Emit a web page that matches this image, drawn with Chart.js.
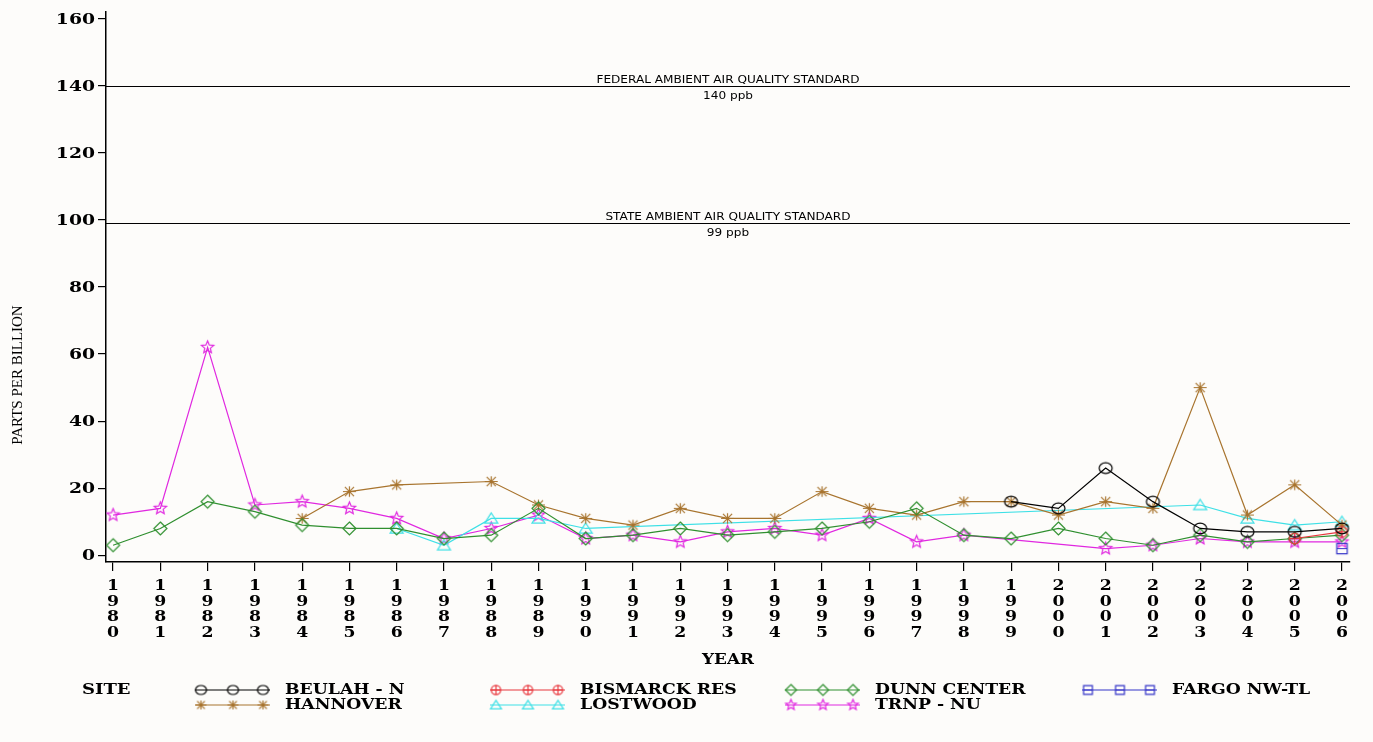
<!DOCTYPE html>
<html>
<head>
<meta charset="utf-8">
<title>Sulfur dioxide annual maximum, 1980-2006</title>
<script src="https://cdn.jsdelivr.net/npm/chart.js@4.4.1/dist/chart.umd.min.js"></script>
<style>
  html, body { margin: 0; padding: 0; background: #fdfcfa; }
  canvas { display: block; }
</style>
</head>
<body>
<canvas id="siteChart" width="1373" height="742"></canvas>
<script>
// yearly values per monitoring site, null = no reading that year
const years = [1980, 1981, 1982, 1983, 1984, 1985, 1986, 1987, 1988, 1989, 1990, 1991, 1992, 1993,
               1994, 1995, 1996, 1997, 1998, 1999, 2000, 2001, 2002, 2003, 2004, 2005, 2006];

const beulahN = [null, null, null, null, null, null, null, null, null, null, null, null, null, null,
                 null, null, null, null, null, 16, 14, 26, 16, 8, 7, 7, 8];
const bismarckRes = [null, null, null, null, null, null, null, null, null, null, null, null, null, null,
                     null, null, null, null, null, null, null, null, null, null, null, 5, 7];
const dunnCenter = [3, 8, 16, 13, 9, 8, 8, 5, 6, 14, 5, 6, 8, 6,
                    7, 8, 10, 14, 6, 5, 8, 5, 3, 6, 4, 5, 6];
const fargoNwTl = [null, null, null, null, null, null, null, null, null, null, null, null, null, null,
                   null, null, null, null, null, null, null, null, null, null, null, null, 2];
const hannover = [null, null, null, null, 11, 19, 21, null, 22, 15, 11, 9, 14, 11,
                  11, 19, 14, 12, 16, 16, 12, 16, 14, 50, 12, 21, 9];
const lostwood = [null, null, null, null, null, null, 8, 3, 11, 11, 8, null, null, null,
                  null, null, null, null, null, null, null, null, null, 15, 11, 9, 10];
const trnpNu = [12, 14, 62, 15, 16, 14, 11, 5, 8, 12, 5, 6, 4, 7,
                8, 6, 11, 4, 6, null, null, 2, 3, 5, 4, 4, 4];

const yTicks = [0, 20, 40, 60, 80, 100, 120, 140, 160];

const standardValues = [140, 99];
const standardNames = ['FEDERAL AMBIENT AIR QUALITY STANDARD', 'STATE AMBIENT AIR QUALITY STANDARD'];
const standardUnits = ['140 ppb', '99 ppb'];

const sites = [
  { name: 'BEULAH - N',   values: beulahN,     color: '#000000', shape: 'circle' },
  { name: 'BISMARCK RES', values: bismarckRes, color: '#e8363c', shape: 'circlePlus' },
  { name: 'DUNN CENTER',  values: dunnCenter,  color: '#2f8f2f', shape: 'diamond' },
  { name: 'FARGO NW-TL',  values: fargoNwTl,   color: '#3535c8', shape: 'boxLine' },
  { name: 'HANNOVER',     values: hannover,    color: '#a8742e', shape: 'asterisk' },
  { name: 'LOSTWOOD',     values: lostwood,    color: '#3ee0e6', shape: 'triangle' },
  { name: 'TRNP - NU',    values: trnpNu,      color: '#e028e0', shape: 'star5' }
];

const serif = '"DejaVu Serif", "Liberation Serif", serif';

// hollow plot symbols drawn onto small canvases, used as point styles
function makeMarker(shape, color, size) {
  const s = Math.ceil(size) + 4;
  const c = document.createElement('canvas');
  c.width = s;
  c.height = s;
  const g = c.getContext('2d');
  const m = s / 2;
  const r = size / 2;
  g.strokeStyle = color;
  g.lineWidth = 1.2;
  g.beginPath();
  if (shape === 'circle') {
    g.ellipse(m, m, r, r * 0.82, 0, 0, Math.PI * 2);
  } else if (shape === 'circlePlus') {
    g.arc(m, m, r * 0.85, 0, Math.PI * 2);
    g.moveTo(m - r * 0.85, m); g.lineTo(m + r * 0.85, m);
    g.moveTo(m, m - r * 0.85); g.lineTo(m, m + r * 0.85);
  } else if (shape === 'diamond') {
    g.moveTo(m, m - r); g.lineTo(m + r, m); g.lineTo(m, m + r); g.lineTo(m - r, m); g.closePath();
  } else if (shape === 'triangle') {
    g.moveTo(m, m - r * 0.85); g.lineTo(m + r, m + r * 0.7); g.lineTo(m - r, m + r * 0.7); g.closePath();
  } else if (shape === 'boxLine') {
    g.rect(m - r * 0.8, m - r * 0.8, r * 1.6, r * 1.6);
    g.moveTo(m - r * 0.8, m); g.lineTo(m + r * 0.8, m);
  } else if (shape === 'asterisk') {
    const d = r * 0.7;
    g.moveTo(m - r, m); g.lineTo(m + r, m);
    g.moveTo(m - d, m - d); g.lineTo(m + d, m + d);
    g.moveTo(m - d, m + d); g.lineTo(m + d, m - d);
    g.moveTo(m, m - r * 0.8); g.lineTo(m, m + r * 0.8);
  } else if (shape === 'star5') {
    for (let k = 0; k < 10; k++) {
      const rad = k % 2 === 0 ? r : r * 0.45;
      const a = -Math.PI / 2 + k * Math.PI / 5;
      const px = m + rad * Math.cos(a);
      const py = m + rad * Math.sin(a);
      if (k === 0) g.moveTo(px, py); else g.lineTo(px, py);
    }
    g.closePath();
  }
  g.stroke();
  return c;
}

const datasets = sites.map(site => ({
  label: site.name,
  data: years.map((yr, i) => ({ x: yr, y: site.values[i] })),
  borderColor: site.color,
  borderWidth: 1.2,
  pointStyle: makeMarker(site.shape, site.color, 13),
  pointRadius: 6,
  fill: false,
  tension: 0,
  spanGaps: true
}));

// text stretched sideways to get the wide plotter lettering
function wideText(ctx, text, x, y, sx) {
  ctx.save();
  ctx.translate(x, y);
  ctx.scale(sx, 1);
  ctx.fillText(text, 0, 0);
  ctx.restore();
}

// reference lines, tick labels, axis titles and the site key below the axis
const decorPlugin = {
  id: 'decor',
  beforeDatasetsDraw(chart) {
    const { ctx, chartArea, scales } = chart;
    const cx = (chartArea.left + chartArea.right) / 2;
    ctx.save();
    standardValues.forEach((v, i) => {
      const y = Math.round(scales.y.getPixelForValue(v)) + 0.5;
      ctx.strokeStyle = '#000';
      ctx.lineWidth = 1.2;
      ctx.beginPath();
      ctx.moveTo(chartArea.left, y);
      ctx.lineTo(chartArea.right, y);
      ctx.stroke();
      ctx.fillStyle = '#000';
      ctx.font = '11px "DejaVu Sans", sans-serif';
      ctx.textAlign = 'center';
      ctx.textBaseline = 'alphabetic';
      wideText(ctx, standardNames[i], cx, y - 4, 1.1);
      ctx.textBaseline = 'top';
      wideText(ctx, standardUnits[i], cx, y + 4, 1.1);
    });
    ctx.restore();
  },
  afterDraw(chart) {
    const { ctx, chartArea, scales } = chart;
    ctx.save();
    ctx.fillStyle = '#000';

    // y tick labels
    ctx.font = 'bold 15px ' + serif;
    ctx.textAlign = 'right';
    ctx.textBaseline = 'middle';
    scales.y.ticks.forEach(t => {
      wideText(ctx, String(t.value), 95, scales.y.getPixelForValue(t.value) + 1, 1.25);
    });

    // year labels, one digit per row
    ctx.textAlign = 'center';
    scales.x.ticks.forEach(t => {
      const x = scales.x.getPixelForValue(t.value);
      String(t.value).split('').forEach((d, k) => {
        wideText(ctx, d, x, chartArea.bottom + 24 + k * 15.7, 1.15);
      });
    });

    ctx.save();
    ctx.translate(18, 375);
    ctx.rotate(-Math.PI / 2);
    ctx.font = '15px "Liberation Serif", serif';
    ctx.textAlign = 'center';
    ctx.textBaseline = 'middle';
    ctx.fillText('PARTS PER BILLION', 0, 0);
    ctx.restore();

    ctx.font = 'bold 14px ' + serif;
    ctx.textAlign = 'center';
    ctx.textBaseline = 'middle';
    wideText(ctx, 'YEAR', (chartArea.left + chartArea.right) / 2, 660, 1.2);

    // key
    ctx.textAlign = 'left';
    ctx.font = 'bold 15px ' + serif;
    wideText(ctx, 'SITE', 82, 690, 1.2);
    const colX = [195, 490, 785, 1082];
    const rowY = [690, 705];
    sites.forEach((site, i) => {
      const x0 = colX[i % 4];
      const y = rowY[Math.floor(i / 4)];
      ctx.strokeStyle = site.color;
      ctx.lineWidth = 1.2;
      ctx.beginPath();
      ctx.moveTo(x0, y);
      ctx.lineTo(x0 + 75, y);
      ctx.stroke();
      const mk = makeMarker(site.shape, site.color, 11);
      [x0 + 6, x0 + 38, x0 + 68].forEach(mx => {
        ctx.drawImage(mk, mx - mk.width / 2, y - mk.height / 2);
      });
      ctx.fillStyle = '#000';
      wideText(ctx, site.name, x0 + 90, y, 1.15);
    });
    ctx.restore();
  }
};

new Chart(document.getElementById('siteChart').getContext('2d'), {
  type: 'line',
  data: { datasets },
  options: {
    responsive: false,
    animation: false,
    layout: { padding: { top: 12, right: 23, left: 0, bottom: 0 } },
    plugins: {
      legend: { display: false },
      tooltip: { enabled: false }
    },
    scales: {
      x: {
        type: 'linear',
        min: 1979.85,
        max: 2006.17,
        afterBuildTicks: scale => { scale.ticks = years.map(v => ({ value: v })); },
        afterFit: scale => { scale.height = 180; },
        ticks: { display: false, autoSkip: false },
        grid: { drawOnChartArea: false, drawTicks: true, tickLength: 9, color: '#000', lineWidth: 1.2 },
        border: { color: '#000', width: 1.5 }
      },
      y: {
        type: 'linear',
        min: -2,
        max: 162,
        afterBuildTicks: scale => { scale.ticks = yTicks.map(v => ({ value: v })); },
        afterFit: scale => { scale.width = 106; },
        ticks: { display: false },
        grid: { drawOnChartArea: false, drawTicks: true, tickLength: 8, color: '#000', lineWidth: 1.2 },
        border: { color: '#000', width: 1.5 }
      }
    }
  },
  plugins: [decorPlugin]
});
</script>
</body>
</html>
